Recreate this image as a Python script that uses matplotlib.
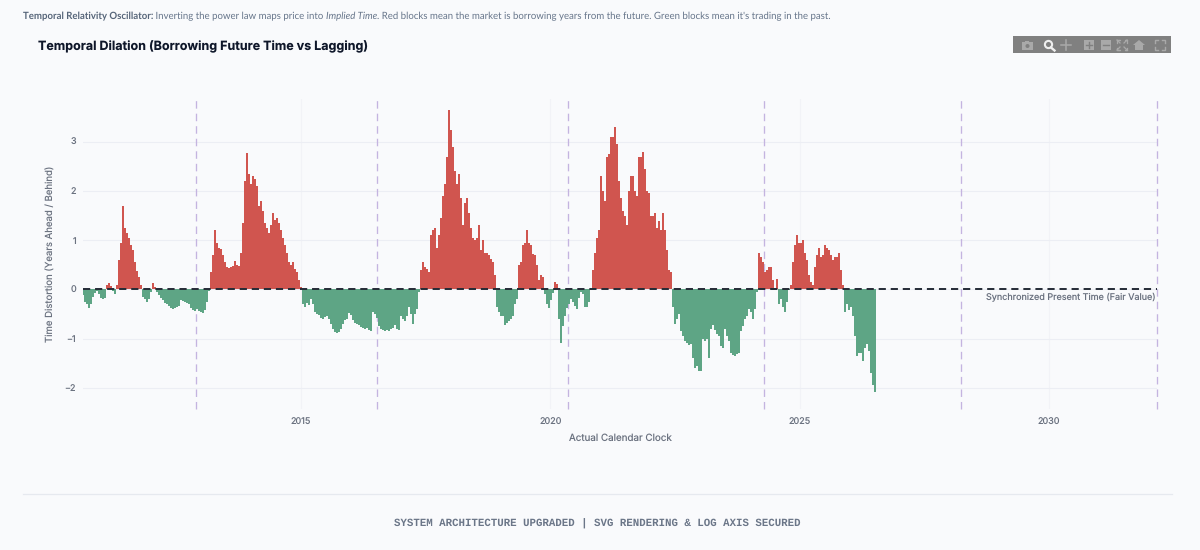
import numpy as np
import matplotlib
matplotlib.use("Agg")
import matplotlib.pyplot as plt
from matplotlib.patches import Rectangle, Circle, Polygon

# Years ahead (+) or behind (-) the power-law clock, sampled about every two weeks
cycle_2011_2013 = [
    -.12, -.25, -.3, -.37, -.3, -.15, -.08, -.03, -.1, -.17,
    -.2, -.18, .1, .13, .06, -.03, -.1, .1, .6, .95,
    1.7, 1.25, 1.15, 1.05, .9, .8, .55, .38, .25, .1,
    -.15, -.2, -.25, -.2, -.05, .13, .05, -.05, -.12, -.18,
    -.22, -.27, -.3, -.34, -.37, -.4, -.37, -.36, -.33, -.22,
    -.24, -.25, -.27, -.3, -.38, -.42, -.43, -.4, -.44, -.46,
    -.48, -.42, -.25, -.03,
]
cycle_2013_2017 = [
    .35, .7, 1.2, .95, .85, .82, .7, .55, .45, .43,
    .45, .47, .58, .5, .47, .75, 1.35, 2.2, 2.78, 2.35,
    2.15, 2.3, 2.25, 2.1, 1.7, 1.8, 1.6, 1.35, 1.25, 1.15,
    1.3, 1.55, 1.42, 1.45, 1.35, 1.2, 1.05, .9, .75, .55,
    .5, .55, .42, .35, .2, .05,
    -.3, -.35, -.28, -.32, -.2, -.3, -.45, -.5, -.52, -.58,
    -.6, -.56, -.55, -.6, -.7, -.8, -.87, -.88, -.86, -.8,
    -.7, -.62, -.6, -.47, -.52, -.62, -.68, -.7, -.72, -.76,
    -.78, -.8, -.78, -.82, -.85, -.45, -.5, -.58, -.75, -.8,
    -.82, -.85, -.83, -.84, -.8, -.78, -.72, -.8, -.82, -.55,
    -.6, -.65, -.55, -.35, -.5, -.7, -.5, -.4, -.05,
]
cycle_2017_2020 = [
    .4, .55, .45, .42, .35, 1.1, 1.2, 1.25, .85, 1.1,
    1.45, 1.9, 2.15, 2.7, 3.65, 3.25, 2.9, 2.4, 2.15, 2.35,
    1.85, 1.3, 1.75, 1.85, 1.55, 1.25, 1.05, 1.0, 1.05, 1.3,
    .8, 1.0, .75, .75, .7, .62, .55, .3,
    -.35, -.45, -.55, -.55, -.72, -.68, -.65, -.6, -.55, -.3, -.2,
    .5, .55, .9, .95, 1.2, .95, .9, .72, .7, .5,
    .2, .3, .25, -.1, -.3, -.38, -.22, -.08, .15, .12,
    -.6, -1.08, -.75, -.55, -.38, -.3, -.2, -.25, -.33, -.4,
    -.18, -.05, -.1, -.35, -.35, -.25, -.02,
]
cycle_2020_2024 = [
    .4, .75, 1.05, 1.2, 2.3, 2.0, 1.8, 2.7, 2.75, 3.1,
    3.1, 3.3, 2.95, 2.2, 1.85, 1.6, 1.5, 1.3, 2.0, 2.3,
    2.3, 2.0, 1.9, 2.7, 2.7, 2.8, 2.45, 2.0, 1.95, 1.5,
    1.5, 1.55, 1.25, 1.4, 1.2, 1.55, 1.2, .8, .4, .35,
    -.35, -.7, -.6, -.5, -.85, -.95, -1.05, -1.08, -1.12, -1.1,
    -1.4, -1.6, -1.55, -1.65, -1.65, -1.0, -1.05, -1.0, -1.4, -.8,
    -.72, -.82, -.9, -.95, -1.15, -1.2, -.8, -.95, -1.05, -1.3,
    -1.33, -1.35, -1.32, -1.3, -.85, -.75, -.6, -.55, -.4, -.45,
    -.6, -.4, -.05,
]
cycle_2024_2026 = [
    .75, .65, .55, .35, .4, .45, .45, .2, .02, .22,
    -.3, -.2, -.35, -.45, -.25, -.02, .1, .55, .9, 1.1,
    .95, .95, 1.0, .75, .6, .3, .15, .1, .45, .7,
    .85, .65, .7, .9, .85, .8, .7, .6, .65, .65,
    .75, .4, .1, -.45, -.3, -.42, -.35, -.55, -.95, -1.35,
    -1.3, -1.3, -1.45, -1.2, -1.1, -1.25, -1.7, -1.95, -2.08,
]
distortion = np.array(cycle_2011_2013 + cycle_2013_2017 + cycle_2017_2020
                      + cycle_2020_2024 + cycle_2024_2026)
first_sample_year = 2010.63
sample_step_years = 0.0401
years = first_sample_year + np.arange(len(distortion)) * sample_step_years

halving_years = [2012.90, 2016.515, 2020.345, 2024.28, 2028.225, 2032.16]
x_tick_years = [2015, 2020, 2025, 2030]
x_tick_labels = ["2015", "2020", "2025", "2030"]
y_ticks = [-2, -1, 0, 1, 2, 3]
y_tick_labels = ["\u22122", "\u22121", "0", "1", "2", "3"]

PAGE = "#f9fafc"
RED = "#d0554f"
GREEN = "#5ea585"
TICK_GREY = "#6b7280"
W, H = 1200, 550

plt.rcParams["font.family"] = ["Inter", "DejaVu Sans"]
plt.rcParams["text.hinting"] = "no_hinting"
plt.rcParams["text.hinting_factor"] = 8
fig = plt.figure(figsize=(W / 100, H / 100), dpi=100, facecolor=PAGE)


def fx(px):
    return px / W


def fy(py):
    return 1 - py / H


ax = fig.add_axes([fx(83), fy(409), (1157 - 83) / W, (409 - 99) / H], facecolor=PAGE)
ax.set_xlim(2010.629, 2032.165)
ax.set_ylim(-2.43, 3.87)
for side in ax.spines.values():
    side.set_visible(False)

ax.set_xticks(x_tick_years, x_tick_labels)
ax.set_yticks(y_ticks, y_tick_labels)
ax.tick_params(axis="both", length=0, labelsize=6.5, labelcolor=TICK_GREY)
ax.tick_params(axis="x", pad=6.5)
ax.tick_params(axis="y", pad=5)
ax.grid(axis="y", color="#eceef4", lw=0.8)
ax.grid(axis="x", color="#f2f3f7", lw=0.8)
ax.set_axisbelow(True)
ax.set_xlabel("Actual Calendar Clock", fontsize=7.05, color=TICK_GREY, labelpad=5)
ax.set_ylabel("Time Distortion (Years Ahead / Behind)", fontsize=6.9,
              color=TICK_GREY, labelpad=7.5)

for year in halving_years:
    ax.axvline(year, color="#c4b4e0", lw=0.95, dashes=(5.7, 3.8), zorder=1.5, clip_on=False)

ax.bar(years, distortion, width=sample_step_years * 1.05,
       color=[RED if v > 0 else GREEN for v in distortion],
       linewidth=0, zorder=2)
ax.axhline(0, color="#252b36", lw=1.4, dashes=(3.7, 2.5), zorder=3)
ax.text(2032.13, -0.07, "Synchronized Present Time (Fair Value)", ha="right", va="top",
        fontsize=6.5, color=TICK_GREY, zorder=4)

# Explanatory note above the chart, built from differently styled runs
note_runs = [
    ("Temporal Relativity Oscillator:", "bold", "normal", "#566579"),
    (" Inverting the power law maps price into ", "normal", "normal", "#66758a"),
    ("Implied Time", "normal", "italic", "#66758a"),
    (". Red blocks mean the market is borrowing years from the future. "
     "Green blocks mean it's trading in the past.", "normal", "normal", "#66758a"),
]
renderer = fig.canvas.get_renderer()
cursor = 23.0
for run, weight, style, colour in note_runs:
    padded = run.replace(" ", "\u00a0")
    t = fig.text(fx(cursor), fy(16), padded, fontsize=6.95, family=["Lato", "DejaVu Sans"],
                 fontweight=weight, fontstyle=style, color=colour, va="center", ha="left")
    cursor += t.get_window_extent(renderer).width

fig.text(fx(38), fy(47), "Temporal Dilation (Borrowing Future Time vs Lagging)",
         fontsize=9.0, fontweight="bold", color="#0f172a", va="center", ha="left")

fig.add_artist(plt.Line2D([fx(23), fx(1172)], [fy(494), fy(494)], color="#e6e9ef", lw=0.9))
fig.text(fx(597), fy(523.5), "SYSTEM ARCHITECTURE UPGRADED | SVG RENDERING & LOG AXIS SECURED",
         fontsize=7.75, family=["Liberation Mono", "DejaVu Sans Mono"], fontweight="bold",
         color="#6b7688", va="center", ha="center")

# Toolbar strip with simplified button glyphs, laid out in figure pixels
bar = fig.add_axes([0, 0, 1, 1], facecolor="none", zorder=5)
bar.set_xlim(0, W)
bar.set_ylim(H, 0)
bar.axis("off")
bar.add_patch(Rectangle((1013, 36), 158, 17, color="#808080", lw=0))
ICON = "#a9a9a9"
bar.add_patch(Rectangle((1022, 42), 11, 8, color=ICON, lw=0))
bar.add_patch(Rectangle((1025, 40.5), 4, 2, color=ICON, lw=0))
bar.add_patch(Circle((1027.5, 46), 2, color="#808080", lw=0))
bar.add_patch(Circle((1048.5, 44.5), 3.6, fill=False, ec="#efefef", lw=1.5))
bar.plot([1051, 1054.5], [47.5, 50.5], color="#efefef", lw=1.7)
bar.plot([1061, 1071], [45, 45], color=ICON, lw=1.1)
bar.plot([1066, 1066], [40, 50], color=ICON, lw=1.1)
for cx in (1089, 1106):
    bar.add_patch(Rectangle((cx - 5, 40), 10, 10, color=ICON, lw=0))
    bar.plot([cx - 3, cx + 3], [45, 45], color="#808080", lw=1)
bar.plot([1089, 1089], [42, 48], color="#808080", lw=1)
for sx, sy in ((-1, -1), (1, -1), (-1, 1), (1, 1)):
    cx, cy = 1122, 45
    bar.plot([cx + sx * 5, cx + sx * 2], [cy + sy * 5, cy + sy * 2], color=ICON, lw=0.9)
    bar.plot([cx + sx * 5, cx + sx * 2.5, cx + sx * 5, cx + sx * 5],
             [cy + sy * 5, cy + sy * 5, cy + sy * 5, cy + sy * 2.5], color=ICON, lw=0.9)
    cx = 1160
    bar.plot([cx + sx * 2, cx + sx * 5, cx + sx * 5],
             [cy + sy * 5, cy + sy * 5, cy + sy * 2], color=ICON, lw=1)
bar.add_patch(Polygon([(1133, 45), (1139, 40), (1145, 45), (1143, 45), (1143, 50),
                       (1135, 50), (1135, 45)], color=ICON, lw=0))

fig.savefig("out.png", dpi=100, facecolor=PAGE)
